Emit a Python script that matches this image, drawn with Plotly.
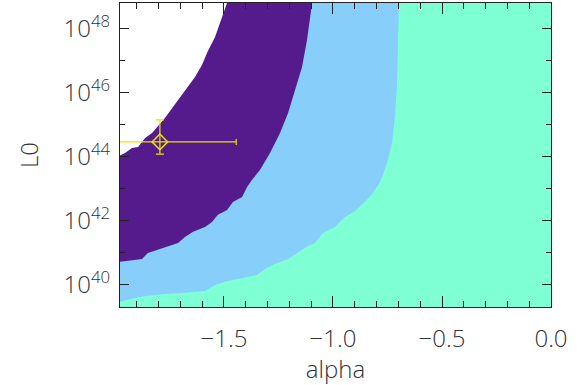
import plotly.graph_objects as go

# Axis ranges (alpha, log10 L0)
X_MIN, X_MAX = -1.977, 0.0
LOGY_MIN, LOGY_MAX = 39.31, 48.81

# Boundary white / purple region
b1_alpha = [-1.98, -1.954, -1.922, -1.894, -1.862, -1.830, -1.771, -1.734, -1.702,
            -1.670, -1.633, -1.601, -1.576, -1.541, -1.518, -1.505, -1.486, -1.480]
b1_logL = [44.03, 44.125, 44.28, 44.31, 44.59, 44.75, 45.22, 45.56, 45.84,
           46.16, 46.50, 46.875, 47.28, 47.75, 48.19, 48.50, 48.81, 48.90]

# Boundary purple / light blue region
b2_alpha = [-1.98, -1.876, -1.849, -1.807, -1.757, -1.711, -1.679, -1.642, -1.587,
            -1.555, -1.528, -1.486, -1.459, -1.417, -1.394, -1.372, -1.335, -1.289,
            -1.243, -1.206, -1.174, -1.142, -1.119, -1.106, -1.096, -1.094]
b2_logL = [40.72, 40.81, 41.00, 41.09, 41.22, 41.31, 41.50, 41.66, 41.81,
           41.97, 42.19, 42.34, 42.59, 42.75, 43.06, 43.28, 43.59, 44.125,
           44.75, 45.375, 46.09, 46.81, 47.66, 48.375, 48.81, 48.90]

# Boundary light blue / aquamarine region
b3_alpha = [-1.98, -1.908, -1.849, -1.771, -1.693, -1.587, -1.541, -1.482, -1.417,
            -1.349, -1.312, -1.266, -1.206, -1.165, -1.115, -1.083, -1.046, -0.991,
            -0.945, -0.899, -0.844, -0.817, -0.784, -0.752, -0.729, -0.716, -0.706,
            -0.702, -0.697, -0.696]
b3_logL = [39.47, 39.59, 39.66, 39.72, 39.75, 39.81, 40.00, 40.125, 40.22,
           40.31, 40.50, 40.66, 40.81, 41.00, 41.22, 41.31, 41.625, 41.81,
           42.125, 42.31, 42.66, 42.875, 43.22, 43.81, 44.44, 45.25, 46.31,
           47.66, 48.81, 48.90]

# Data point with error bars
pt_alpha = [-1.794]
pt_logL = [44.47]
pt_alpha_err_plus = [0.35]
pt_alpha_err_minus = [0.35]
pt_logL_up = [45.16]
pt_logL_down = [44.09]

y_tick_exps = [40, 42, 44, 46, 48]
y_minor_exps = [39, 41, 43, 45, 47]

colors = ["#551a8b", "#87cefa", "#7fffd4"]

fig = go.Figure()

pad = 0.2
for ba, bl, col in [(b1_alpha, b1_logL, colors[0]),
                    (b2_alpha, b2_logL, colors[1]),
                    (b3_alpha, b3_logL, colors[2])]:
    xs = list(ba) + [X_MAX + pad, X_MAX + pad, X_MIN - pad, X_MIN - pad]
    ls = list(bl) + [LOGY_MAX + pad, LOGY_MIN - pad, LOGY_MIN - pad, bl[0]]
    fig.add_trace(go.Scatter(
        x=xs, y=[10.0 ** v for v in ls], mode="lines", fill="toself",
        fillcolor=col, line=dict(width=0, color=col), hoverinfo="skip",
        showlegend=False))

yv = 10.0 ** pt_logL[0]
fig.add_trace(go.Scatter(
    x=pt_alpha, y=[yv], mode="markers",
    marker=dict(symbol="diamond-open", size=12, color="#e6e600",
                line=dict(width=1.5, color="#e6e600")),
    error_x=dict(type="data", symmetric=False, array=pt_alpha_err_plus,
                 arrayminus=pt_alpha_err_minus, color="#e6e600",
                 thickness=1.2, width=3),
    error_y=dict(type="data", symmetric=False,
                 array=[10.0 ** pt_logL_up[0] - yv],
                 arrayminus=[yv - 10.0 ** pt_logL_down[0]],
                 color="#e6e600", thickness=1.2, width=4),
    showlegend=False))

font_family = "Open Sans"
tick_font = dict(family=font_family, size=24, color="#333333", weight=300)

fig.update_layout(
    width=585, height=385,
    margin=dict(l=120, r=34, t=3, b=78),
    plot_bgcolor="white", paper_bgcolor="white",
    xaxis=dict(
        range=[X_MIN, X_MAX], showgrid=False, zeroline=False,
        tickvals=[-1.5, -1.0, -0.5, 0.0],
        ticktext=["\u22121.5", "\u22121.0", "\u22120.5", "0.0"],
        ticks="inside", ticklen=11, tickwidth=1, tickcolor="#222222",
        showline=True, linecolor="#222222", linewidth=1, mirror="allticks",
        minor=dict(ticks="inside", ticklen=6, tickwidth=1, tickcolor="#222222",
                   dtick=0.1, showgrid=False),
        tickfont=tick_font, ticklabelstandoff=10,
        title=dict(text="alpha", font=dict(family=font_family, size=24,
                                           color="#333333", weight=300),
                   standoff=6),
    ),
    yaxis=dict(
        type="log", range=[LOGY_MIN, LOGY_MAX], showgrid=False, zeroline=False,
        tickvals=[10.0 ** e for e in y_tick_exps],
        ticktext=["10<sup>%d</sup>" % e for e in y_tick_exps],
        ticks="inside", ticklen=9, tickwidth=1, tickcolor="#222222",
        showline=True, linecolor="#222222", linewidth=1, mirror="allticks",
        minor=dict(ticks="inside", ticklen=5, tickwidth=1, tickcolor="#222222",
                   tickvals=[10.0 ** e for e in y_minor_exps], showgrid=False),
        tickfont=tick_font, ticklabelstandoff=4,
        title=dict(text="L0", font=dict(family=font_family, size=24,
                                        color="#333333", weight=300),
                   standoff=18),
    ),
)

fig.write_html("out.html")
